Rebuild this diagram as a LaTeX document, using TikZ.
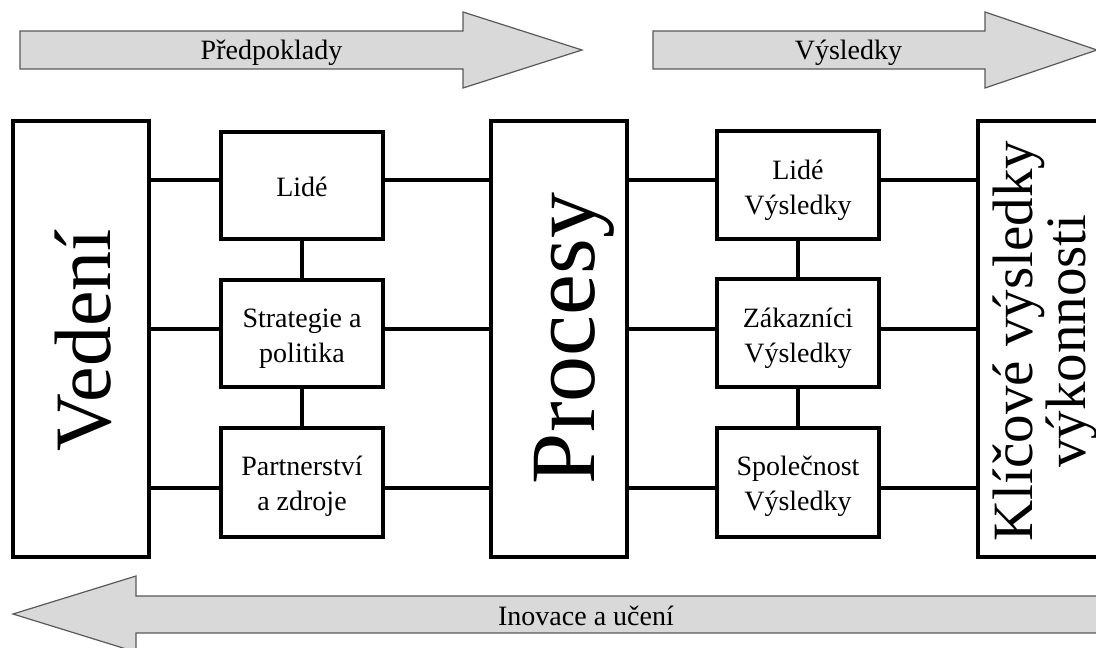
\documentclass[tikz,border=0pt]{standalone}
\usepackage{fontspec}
\setmainfont{Liberation Serif}
\begin{document}
\begin{tikzpicture}[x=1pt,y=-1pt,
  block/.style={draw=black, line width=3.1pt, fill=white, inner sep=0pt},
  boxtext/.style={inner sep=0pt, align=center, font=\fontsize{28}{35}\selectfont},
  link/.style={draw=black, line width=3.1pt},
  flowarrow/.style={draw=black!65, line width=1.2pt, fill=black!15, line join=miter},
  arrowtext/.style={inner sep=0pt, anchor=base, font=\fontsize{28}{34}\selectfont},
]
\useasboundingbox (0,0) rectangle (1096,648);
\clip (0,0) rectangle (1096,648);

% broad direction arrows
\draw[flowarrow] (20,31) -- (463,31) -- (463,12) -- (582,50) -- (463,88) -- (463,69) -- (20,69) -- cycle;
\draw[flowarrow] (653,31) -- (985,31) -- (985,12) -- (1097,50) -- (985,88) -- (985,69) -- (653,69) -- cycle;
\draw[flowarrow] (1110,596) -- (136,596) -- (136,576) -- (13,614) -- (136,652) -- (136,633) -- (1110,633) -- cycle;
\node[arrowtext] (tpre) at (271.5,59) {Předpoklady};
\node[arrowtext] (tres) at (848.5,59) {Výsledky};
\node[arrowtext] (tinn) at (586,625.5) {Inovace a učení};

% row heights of the horizontal links
\coordinate (row1) at (0,180);
\coordinate (row2) at (0,329);
\coordinate (row3) at (0,488);

% tall pillars
\node[block, minimum width=136pt, minimum height=436pt] (ved) at (81,339) {};
\node[block, minimum width=136pt, minimum height=436pt] (proc) at (559,339) {};
\node[block, minimum width=140pt, minimum height=436pt] (kpi) at (1048,339) {};
\node[inner sep=0pt, rotate=90, font=\fontsize{80}{80}\selectfont] (vedtxt) at (83,340) {Vedení};
\node[inner sep=0pt, rotate=90, font=\fontsize{92}{92}\selectfont] (proctxt) at (574,338.5) {Procesy};
\node[inner sep=0pt, rotate=90, align=center, font=\fontsize{57}{50}\selectfont] (kpitxt) at (1045,341) {Klíčové výsledky\\výkonnosti};

% enabler boxes
\node[block, minimum width=162pt, minimum height=107pt] (l1) at (302,185.5) {};
\node[block, minimum width=162pt, minimum height=107pt] (l2) at (302,333.5) {};
\node[block, minimum width=162pt, minimum height=109pt] (l3) at (302,482.5) {};
\node[boxtext] (l1t) at (302,187) {Lidé};
\node[boxtext] (l2t) at (302,339) {Strategie a\\politika};
\node[boxtext] (l3t) at (302,486) {Partnerství\\a zdroje};

% result boxes
\node[block, minimum width=162pt, minimum height=108pt] (r1) at (798,185) {};
\node[block, minimum width=162pt, minimum height=108pt] (r2) at (798,333) {};
\node[block, minimum width=162pt, minimum height=109pt] (r3) at (798,482.5) {};
\node[boxtext] (r1t) at (798,190) {Lidé\\Výsledky};
\node[boxtext] (r2t) at (798,338) {Zákazníci\\Výsledky};
\node[boxtext] (r3t) at (798,486) {Společnost\\Výsledky};

% horizontal links
\draw[link] (ved.east |- row1) -- (l1.west |- row1);
\draw[link] (ved.east |- row2) -- (l2.west |- row2);
\draw[link] (ved.east |- row3) -- (l3.west |- row3);
\draw[link] (l1.east |- row1) -- (proc.west |- row1);
\draw[link] (l2.east |- row2) -- (proc.west |- row2);
\draw[link] (l3.east |- row3) -- (proc.west |- row3);
\draw[link] (proc.east |- row1) -- (r1.west |- row1);
\draw[link] (proc.east |- row2) -- (r2.west |- row2);
\draw[link] (proc.east |- row3) -- (r3.west |- row3);
\draw[link] (r1.east |- row1) -- (kpi.west |- row1);
\draw[link] (r2.east |- row2) -- (kpi.west |- row2);
\draw[link] (r3.east |- row3) -- (kpi.west |- row3);

% vertical links within the columns
\draw[link] (l1.south) -- (l2.north);
\draw[link] (l2.south) -- (l3.north);
\draw[link] (r1.south) -- (r2.north);
\draw[link] (r2.south) -- (r3.north);
\end{tikzpicture}
\end{document}
